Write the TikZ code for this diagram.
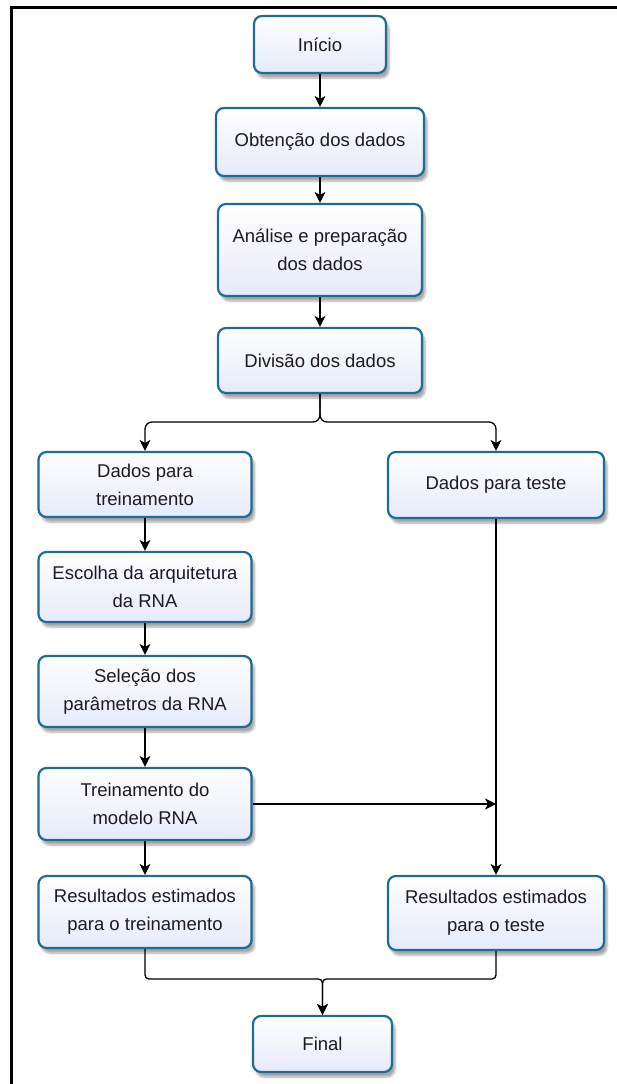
\documentclass[tikz,border=0pt]{standalone}
\usepackage{fontspec}
\setmainfont{Liberation Sans}
\usetikzlibrary{arrows.meta,shadows.blur}
\definecolor{boxblue}{RGB}{30,108,150}
\definecolor{boxfill}{RGB}{230,234,250}
\definecolor{txt}{RGB}{30,25,35}
\begin{document}
\begin{tikzpicture}[x=1pt,y=-1pt,
  box/.style={draw=boxblue, line width=2.2pt, rounded corners=8pt,
    top color=white, bottom color=boxfill, text=txt, align=center,
    font=\fontsize{18.5}{28}\selectfont, inner sep=0pt,
    blur shadow={shadow xshift=3pt, shadow yshift=-5pt, shadow blur steps=6, shadow opacity=35}},
  conn/.style={line width=1.3pt, black},
  arr/.style={conn, -{Stealth[length=11pt,width=11pt,inset=3pt]}}]
\useasboundingbox (0,0) rectangle (617,1084);
\draw[line width=2.6pt] (11.5,7.5) -- (617,7.5);
\draw[line width=2.6pt] (11.5,6.2) -- (11.5,1084);

\node[box, minimum width=132pt, minimum height=57pt] (inicio) at (320,44.5) {Início};
\node[box, minimum width=208pt, minimum height=68pt] (obt) at (320,142) {Obtenção dos dados};
\node[box, minimum width=204pt, minimum height=92pt] (anal) at (320,250) {Análise e preparação\\dos dados};
\node[box, minimum width=204pt, minimum height=65pt] (div) at (320,360.5) {Divisão dos dados};
\node[box, minimum width=213pt, minimum height=65pt] (dtr) at (145,484.5) {Dados para\\treinamento};
\node[box, minimum width=216pt, minimum height=66pt] (dte) at (496,485) {Dados para teste};
\node[box, minimum width=213pt, minimum height=70pt] (esc) at (145,587) {Escolha da arquitetura\\da RNA};
\node[box, minimum width=213pt, minimum height=71pt] (sel) at (145,691.5) {Seleção dos\\parâmetros da RNA};
\node[box, minimum width=213pt, minimum height=72pt] (tre) at (145,804) {Treinamento do\\modelo RNA};
\node[box, minimum width=213pt, minimum height=72pt] (rtr) at (145,912) {Resultados estimados\\para o treinamento};
\node[box, minimum width=216pt, minimum height=74pt] (rte) at (496,913) {Resultados estimados\\para o teste};
\node[box, minimum width=139pt, minimum height=56pt] (fin) at (322.5,1044) {Final};

\draw[arr] (inicio) -- (obt);
\draw[arr] (obt) -- (anal);
\draw[arr] (anal) -- (div);
\coordinate (split) at (320,422);
\draw[arr, rounded corners=7pt] (div.south) -- (split) -| (dtr.north);
\draw[arr, rounded corners=7pt] (div.south) -- (split) -| (dte.north);
\draw[arr] (dtr) -- (esc);
\draw[arr] (esc) -- (sel);
\draw[arr] (sel) -- (tre);
\draw[arr] (tre) -- (rtr);
\draw[arr] (dte) -- (rte);
\coordinate (tj) at (dte.south |- tre.east);
\draw[arr] (tre.east) -- (tj);
\coordinate (merge) at (322.5,979);
\draw[arr, rounded corners=4pt] (rtr.south) |- (merge) -- (fin.north);
\draw[arr, rounded corners=4pt] (rte.south) |- (merge) -- (fin.north);
\end{tikzpicture}
\end{document}
